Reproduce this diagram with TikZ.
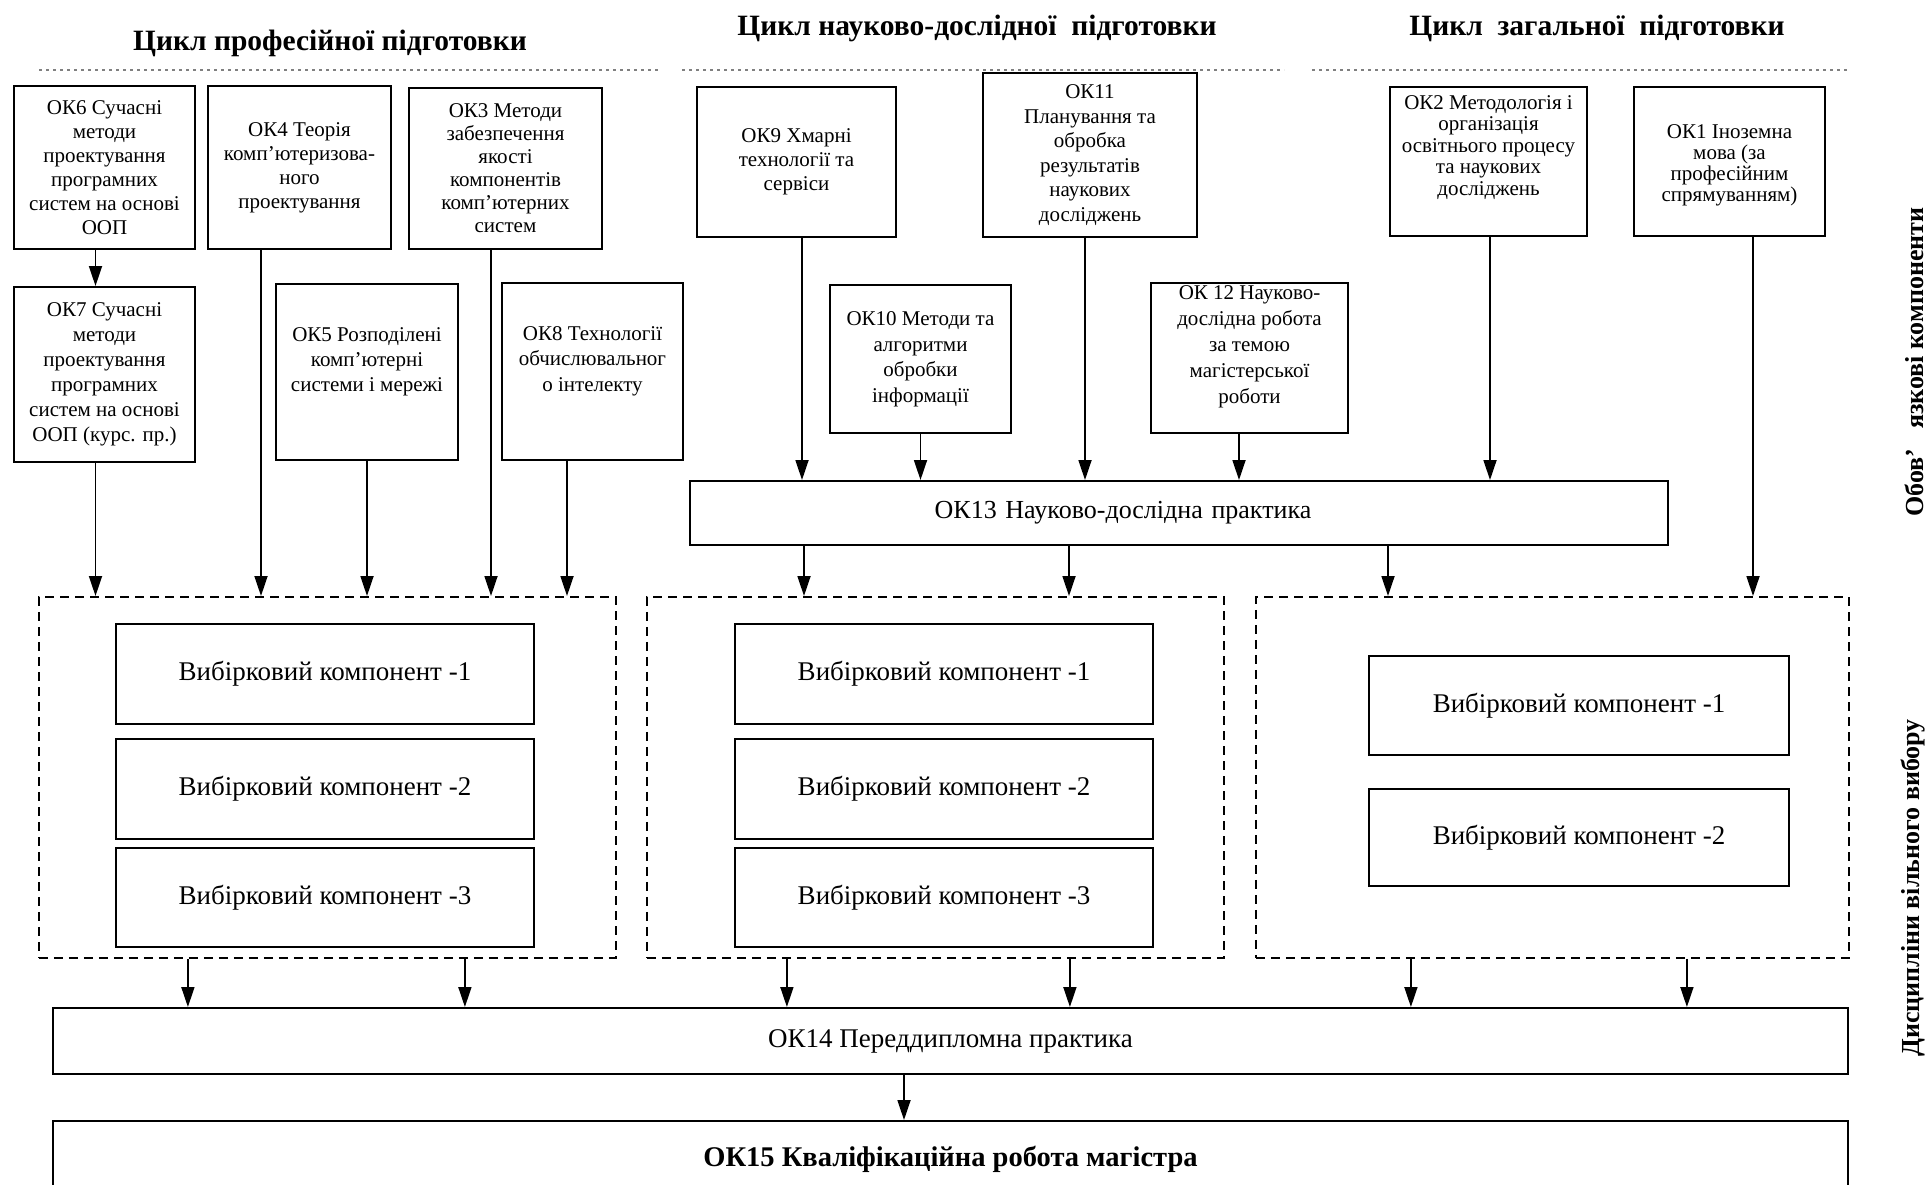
\documentclass[tikz,border=0pt]{standalone}
\usepackage{fontspec}
\setmainfont{Liberation Serif}
\usetikzlibrary{arrows.meta}
\newcommand\dnarrow[3]{\coordinate (tmpa) at ([xshift=#2pt]#1.south);\draw[arr] (tmpa) -- (tmpa |- #3.north);}
\newcommand\bfs[1]{\fontsize{21}{#1}\selectfont}
\begin{document}
\begin{tikzpicture}[x=1pt,y=-1pt,
  box/.style={draw, line width=2pt, inner sep=0pt, align=center, anchor=north west, font=\bfs{24}},
  vbox/.style={draw, line width=2pt, inner sep=0pt, anchor=north west, font=\fontsize{27}{30}\selectfont},
  grp/.style={draw, dash pattern=on 9pt off 6pt, line width=1.8pt, anchor=north west, inner sep=0pt},
  arr/.style={line width=1.8pt, -{Triangle[length=20pt,width=13pt]}},
  hdr/.style={font=\bfseries\fontsize{29.5}{32}\selectfont},
  hline/.style={draw=gray, line width=1.3pt, dash pattern=on 3pt off 4pt},
  side/.style={rotate=90, font=\bfseries\fontsize{26}{30}\selectfont}
]
\useasboundingbox (0,0) rectangle (1927,1185);
\fill[white] (0,0) rectangle (1927,1185);

% headers
\node[hdr] (h1) at (330,43) {Цикл професійної підготовки};
\node[hdr] (h2) at (977,28) {Цикл науково-дослідної\ \ підготовки};
\node[hdr] (h3) at (1597,28) {Цикл\ \ загальної\ \ підготовки};
\draw[hline] (39,70) -- (659,70);
\draw[hline] (682,70) -- (1284,70);
\draw[hline] (1312,70) -- (1848,70);

% side labels
\node[side] (s1) at (1914,362) {Обов’\ \ \ язкові компоненти};
\node[side] (s2) at (1913,888) {Дисципліни\ вільного\ вибору};

% row 1
\node[box, minimum width=181pt, minimum height=163pt] (ok6) at (13,85) {ОК6 Сучасні\\методи\\проектування\\програмних\\систем на основі\\ООП};
\node[box, minimum width=183pt, minimum height=163pt] (ok4) at (207,85) {ОК4 Теорія\\комп'ютеризова-\\ного\\проектування};
\node[box, minimum width=193pt, minimum height=161pt, font=\bfs{23}] (ok3) at (408,87) {ОК3 Методи\\забезпечення\\якості\\компонентів\\комп'ютерних\\систем};
\node[box, minimum width=199pt, minimum height=150pt] (ok9) at (696,86) {ОК9 Хмарні\\технології та\\сервіси};
\node[box, minimum width=214pt, minimum height=164pt, font=\bfs{24.5}] (ok11) at (982,72) {ОК11\\Планування та\\обробка\\результатів\\наукових\\досліджень};
\node[box, minimum width=197pt, minimum height=149pt, font=\bfs{21.5}] (ok2) at (1389,86) {ОК2 Методологія і\\організація\\освітнього процесу\\та наукових\\досліджень\\[11pt]\mbox{}};
\node[box, minimum width=191pt, minimum height=149pt, font=\bfs{21}] (ok1) at (1633,86) {\mbox{}\\ОК1 Іноземна\\мова (за\\професійним\\спрямуванням)};

% row 2
\node[box, minimum width=181pt, minimum height=175pt, font=\bfs{25}] (ok7) at (13,286) {ОК7 Сучасні\\методи\\проектування\\програмних\\систем на основі\\ООП (курс. пр.)};
\node[box, minimum width=182pt, minimum height=176pt, font=\bfs{25}] (ok5) at (275,283) {ОК5 Розподілені\\комп'ютерні\\системи і мережі\\\mbox{}};
\node[box, minimum width=181pt, minimum height=177pt, font=\bfs{25.5}] (ok8) at (501,282) {ОК8 Технології\\обчислювальног\\о інтелекту\\\mbox{}};
\node[box, minimum width=181pt, minimum height=148pt, font=\bfs{25.5}] (ok10) at (829,284) {ОК10 Методи та\\алгоритми\\обробки\\інформації};
\node[box, minimum width=197pt, minimum height=150pt, font=\bfs{26}] (ok12) at (1150,282) {ОК 12 Науково-\\дослідна робота\\за темою\\магістерської\\роботи\\\mbox{}};

% OK13
\node[box, text width=978pt, minimum height=64pt, font=\fontsize{26}{28}\selectfont] (ok13) at (689,480) {\hspace*{-112pt}ОК13 Науково-дослідна практика};

% groups
\node[grp, minimum width=577pt, minimum height=361pt] (db1) at (38,596) {};
\node[grp, minimum width=577pt, minimum height=361pt] (db2) at (646,596) {};
\node[grp, minimum width=593pt, minimum height=361pt] (db3) at (1255,596) {};

\node[vbox, minimum width=418pt, minimum height=100pt] (g11) at (115,623) {Вибірковий компонент -1};
\node[vbox, minimum width=418pt, minimum height=100pt] (g12) at (115,738) {Вибірковий компонент -2};
\node[vbox, minimum width=418pt, minimum height=99pt] (g13) at (115,847) {Вибірковий компонент -3};
\node[vbox, minimum width=418pt, minimum height=100pt] (g21) at (734,623) {Вибірковий компонент -1};
\node[vbox, minimum width=418pt, minimum height=100pt] (g22) at (734,738) {Вибірковий компонент -2};
\node[vbox, minimum width=418pt, minimum height=99pt] (g23) at (734,847) {Вибірковий компонент -3};
\node[vbox, minimum width=420pt, minimum height=99pt] (g31) at (1368,655) {Вибірковий компонент -1};
\node[vbox, minimum width=420pt, minimum height=97pt] (g32) at (1368,788) {Вибірковий компонент -2};

% OK14, OK15
\node[box, minimum width=1795pt, minimum height=66pt, font=\fontsize{27}{29}\selectfont] (ok14) at (52,1007) {ОК14 Переддипломна практика};
\node[box, minimum width=1795pt, minimum height=76pt, font=\bfseries\fontsize{28.5}{30}\selectfont] (ok15) at (52,1120) {ОК15 Кваліфікаційна робота магістра};

% arrows
\dnarrow{ok6}{-9}{ok7}
\dnarrow{ok7}{-9}{db1}
\dnarrow{ok4}{-38.5}{db1}
\dnarrow{ok5}{0}{db1}
\dnarrow{ok3}{-14.5}{db1}
\dnarrow{ok8}{-25.5}{db1}
\dnarrow{ok9}{5.5}{ok13}
\dnarrow{ok10}{0}{ok13}
\dnarrow{ok11}{-5}{ok13}
\dnarrow{ok12}{-10.5}{ok13}
\dnarrow{ok2}{1.5}{ok13}
\dnarrow{ok13}{-375}{db2}
\dnarrow{ok13}{-110}{db2}
\dnarrow{ok13}{209}{db3}
\dnarrow{ok1}{23.5}{db3}
\dnarrow{db1}{-139.5}{ok14}
\dnarrow{db1}{137.5}{ok14}
\dnarrow{db2}{-148.5}{ok14}
\dnarrow{db2}{134.5}{ok14}
\dnarrow{db3}{-141.5}{ok14}
\dnarrow{db3}{134.5}{ok14}
\dnarrow{ok14}{-46.5}{ok15}
\end{tikzpicture}
\end{document}
